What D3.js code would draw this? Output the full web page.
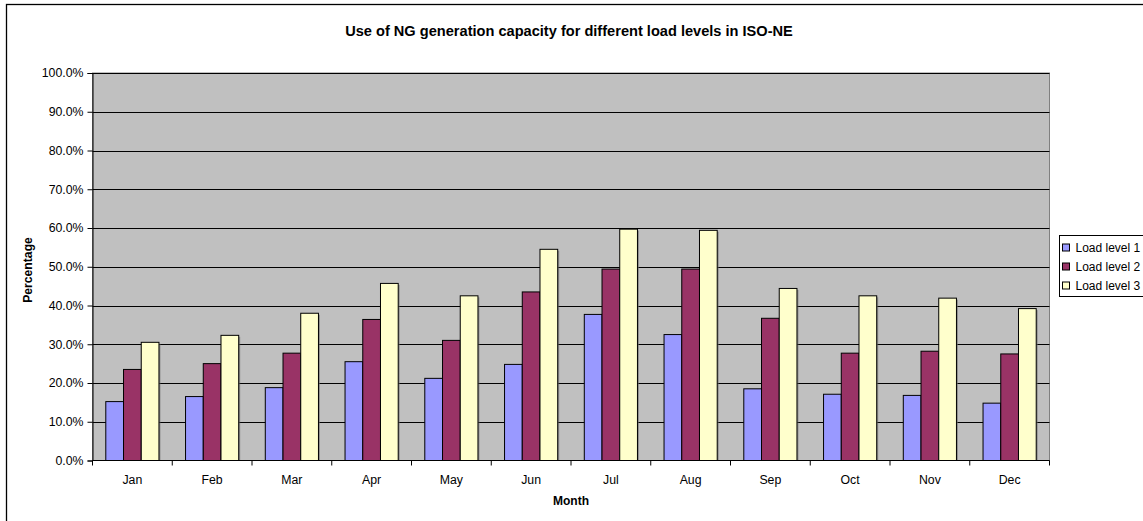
<!DOCTYPE html>
<html>
<head>
<meta charset="utf-8">
<script src="https://cdn.jsdelivr.net/npm/d3@7"></script>
<style>
  html, body { margin: 0; padding: 0; background: #fff; }
  svg { display: block; font-family: Arial, "Liberation Sans", sans-serif; }
</style>
</head>
<body>
<svg id="chart" width="1143" height="521"></svg>
<script>
// Monthly share of natural-gas capacity used, by load level
const months = ["Jan","Feb","Mar","Apr","May","Jun","Jul","Aug","Sep","Oct","Nov","Dec"];
const seriesNames = ["Load level 1", "Load level 2", "Load level 3"];
const level1 = [15.2, 16.5, 18.8, 25.5, 21.2, 24.8, 37.7, 32.5, 18.5, 17.1, 16.8, 14.8];
const level2 = [23.5, 25.0, 27.7, 36.4, 31.0, 43.5, 49.4, 49.4, 36.7, 27.7, 28.2, 27.5];
const level3 = [30.5, 32.3, 38.0, 45.7, 42.5, 54.5, 59.7, 59.4, 44.4, 42.5, 41.9, 39.2];
const yTicks = [0, 10, 20, 30, 40, 50, 60, 70, 80, 90, 100];

const seriesValues = [level1, level2, level3];
const colors = ["#9999FF", "#993366", "#FFFFCC"];

const svg = d3.select("#chart");

// outer chart frame
svg.append("rect")
  .attr("x", 6.5).attr("y", 4.5)
  .attr("width", 1160).attr("height", 540)
  .attr("fill", "#fff").attr("stroke", "#000").attr("stroke-width", 1.3);

const plot = { left: 92.5, right: 1049.5, top: 73, bottom: 460.5 };

const x = d3.scaleBand().domain(months).range([plot.left, plot.right]).paddingInner(0).paddingOuter(0);
const barWidth = x.bandwidth() / (3 + 1.5);
const xs = d3.scaleBand().domain(d3.range(3)).range([barWidth * 0.75, barWidth * 3.75]).padding(0);
const y = d3.scaleLinear().domain([0, 100]).range([plot.bottom, plot.top]);

// plot background
svg.append("rect")
  .attr("x", plot.left).attr("y", plot.top)
  .attr("width", plot.right - plot.left).attr("height", plot.bottom - plot.top)
  .attr("fill", "#C0C0C0").attr("stroke", "#808080").attr("stroke-width", 1);

// horizontal gridlines
svg.append("g")
  .selectAll("line")
  .data(yTicks.filter(d => d > 0))
  .join("line")
  .attr("x1", plot.left).attr("x2", plot.right)
  .attr("y1", d => Math.round(y(d)) + 0.5).attr("y2", d => Math.round(y(d)) + 0.5)
  .attr("stroke", "#000").attr("stroke-width", 1);

// bars
const groups = svg.append("g").selectAll("g")
  .data(seriesValues)
  .join("g")
  .attr("fill", (d, i) => colors[i]);

groups.selectAll("rect.shadow")
  .data((vals, si) => vals.map((v, mi) => ({ v, mi, si })))
  .join("rect")
  .attr("class", "shadow")
  .attr("x", d => x(months[d.mi]) + xs(d.si) + 1.5)
  .attr("y", d => y(d.v) + 1.5)
  .attr("width", xs.bandwidth())
  .attr("height", d => plot.bottom - y(d.v) - 1.5)
  .attr("fill", "#6e6e6e").attr("opacity", 0.6);

groups.selectAll("rect.bar")
  .data((vals, si) => vals.map((v, mi) => ({ v, mi, si })))
  .join("rect")
  .attr("class", "bar")
  .attr("x", d => x(months[d.mi]) + xs(d.si))
  .attr("y", d => y(d.v))
  .attr("width", xs.bandwidth())
  .attr("height", d => plot.bottom - y(d.v))
  .attr("stroke", "#000").attr("stroke-width", 1);

// y axis
const yAxis = d3.axisLeft(y).tickValues(yTicks).tickSize(5).tickPadding(4)
  .tickFormat(d => d3.format(".1f")(d) + "%");
const gy = svg.append("g").attr("transform", `translate(${plot.left},0)`).call(yAxis);
gy.select(".domain").attr("stroke", "#000");
gy.selectAll(".tick line").attr("stroke", "#000");
gy.selectAll("text").attr("font-size", 12.3).attr("fill", "#000")
  .attr("font-family", "Arial, 'Liberation Sans', sans-serif");

// x axis: ticks at category boundaries, labels centred
const gx = svg.append("g").attr("transform", `translate(0,${plot.bottom})`);
gx.append("line").attr("x1", plot.left).attr("x2", plot.right).attr("y1", 0).attr("y2", 0)
  .attr("stroke", "#000").attr("stroke-width", 1.2);
gx.selectAll("line.tk")
  .data(months.concat(["end"]))
  .join("line").attr("class", "tk")
  .attr("x1", (d, i) => plot.left + i * x.step()).attr("x2", (d, i) => plot.left + i * x.step())
  .attr("y1", 0).attr("y2", 5).attr("stroke", "#000");
gx.selectAll("text")
  .data(months)
  .join("text")
  .attr("x", d => x(d) + x.bandwidth() / 2)
  .attr("y", 23)
  .attr("text-anchor", "middle")
  .attr("font-size", 12.3)
  .text(d => d);

// titles
svg.append("text")
  .attr("x", 569).attr("y", 36)
  .attr("text-anchor", "middle")
  .attr("font-size", 14.6).attr("font-weight", "bold")
  .text("Use of NG generation capacity for different load levels in ISO-NE");

svg.append("text")
  .attr("x", 571).attr("y", 505)
  .attr("text-anchor", "middle")
  .attr("font-size", 12).attr("font-weight", "bold")
  .text("Month");

svg.append("text")
  .attr("transform", "translate(32,270) rotate(-90)")
  .attr("text-anchor", "middle")
  .attr("font-size", 12.2).attr("font-weight", "bold")
  .text("Percentage");

// legend
const legend = svg.append("g").attr("transform", "translate(1059.5,235.5)");
legend.append("rect").attr("width", 100).attr("height", 61)
  .attr("fill", "#fff").attr("stroke", "#000").attr("stroke-width", 1);
const items = legend.selectAll("g").data(seriesNames).join("g")
  .attr("transform", (d, i) => `translate(0,${12 + i * 19})`);
items.append("rect").attr("x", 3).attr("y", -3.5).attr("width", 7).attr("height", 7)
  .attr("fill", (d, i) => colors[i]).attr("stroke", "#000").attr("stroke-width", 1);
items.append("text").attr("x", 16).attr("y", 4.5).attr("font-size", 12).text(d => d);
</script>
</body>
</html>
